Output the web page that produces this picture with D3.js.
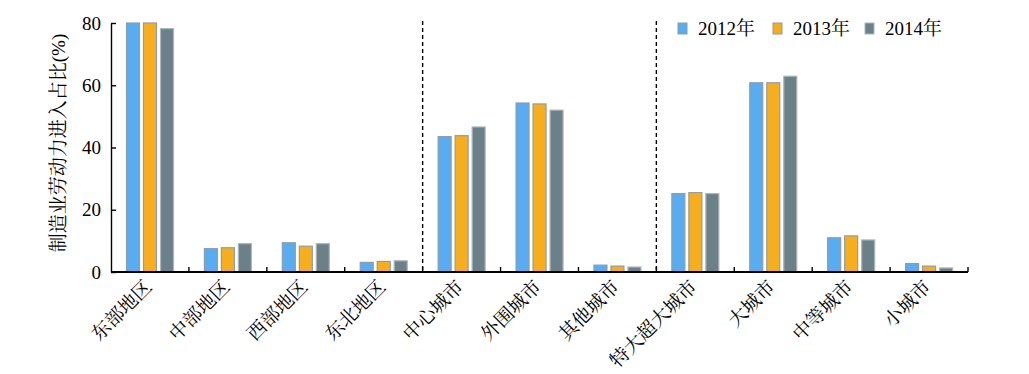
<!DOCTYPE html>
<html>
<head>
<meta charset="utf-8">
<script src="https://cdn.jsdelivr.net/npm/d3@7"></script>
<style>
  body { margin: 0; background: #fff; }
  svg text { font-family: "Liberation Serif", "Noto Serif CJK SC", "Noto Sans CJK SC", serif; fill: #000; }
</style>
</head>
<body>
<svg id="chart" width="1029" height="374"></svg>
<script>
const categories = ["东部地区", "中部地区", "西部地区", "东北地区", "中心城市", "外围城市", "其他城市", "特大超大城市", "大城市", "中等城市", "小城市"];
const years = ["2012年", "2013年", "2014年"];
const values2012 = [80.0, 7.5, 9.4, 3.1, 43.5, 54.3, 2.2, 25.2, 60.8, 11.0, 2.7];
const values2013 = [80.0, 7.8, 8.3, 3.4, 43.8, 54.0, 1.9, 25.5, 60.8, 11.6, 1.9];
const values2014 = [78.2, 9.1, 9.1, 3.6, 46.6, 52.0, 1.6, 25.2, 62.9, 10.3, 1.3];
const yTicks = [0, 20, 40, 60, 80];
const dividers = ["中心城市", "特大超大城市"]; // dashed lines before these groups

const series = [values2012, values2013, values2014];
const colors = ["#58adf2", "#f6ae1f", "#6c8089"];
const strokes = ["#8f9ea6", "#8f9ea6", "#a9b6bc"];

const svg = d3.select("#chart");
const plotLeft = 111, plotRight = 968, plotTop = 23, plotBottom = 272;

const x = d3.scaleBand().domain(categories).range([plotLeft, plotRight]).padding(0);
const inner = d3.scaleBand().domain(years).range([15, 63]).paddingInner(3 / 17);
const y = d3.scaleLinear().domain([0, 80]).range([plotBottom, plotTop]);

// bars
const groups = svg.append("g").selectAll("g")
    .data(categories)
    .join("g")
    .attr("transform", d => `translate(${x(d)},0)`);

groups.selectAll("rect")
    .data((d, i) => years.map((yr, k) => ({ yr, k, v: series[k][i] })))
    .join("rect")
    .attr("x", d => inner(d.yr) + 0.5)
    .attr("y", d => y(d.v))
    .attr("width", inner.bandwidth() - 1)
    .attr("height", d => plotBottom - y(d.v))
    .attr("fill", d => colors[d.k])
    .attr("stroke", d => strokes[d.k])
    .attr("stroke-width", 1.2);

// dashed dividers
svg.append("g").selectAll("line")
    .data(dividers)
    .join("line")
    .attr("x1", d => x(d)).attr("x2", d => x(d))
    .attr("y1", 21).attr("y2", plotBottom)
    .attr("stroke", "#000")
    .attr("stroke-width", 1.4)
    .attr("stroke-dasharray", "4,3");

// y axis
const yAxis = svg.append("g")
    .attr("transform", `translate(${plotLeft},0)`)
    .call(d3.axisLeft(y).tickValues(yTicks).tickSizeInner(-5).tickSizeOuter(0).tickPadding(10));
yAxis.selectAll("path, line").attr("stroke", "#000").attr("stroke-width", 1.4);
yAxis.selectAll("text").attr("font-size", 19).attr("font-family", "Liberation Serif, serif");

// x axis line and boundary ticks
svg.append("line")
    .attr("x1", plotLeft).attr("x2", plotRight)
    .attr("y1", plotBottom).attr("y2", plotBottom)
    .attr("stroke", "#000").attr("stroke-width", 1.8);

const boundaries = categories.slice(1).map(c => x(c)).concat([plotRight]);
svg.append("g").selectAll("line")
    .data(boundaries)
    .join("line")
    .attr("x1", d => d).attr("x2", d => d)
    .attr("y1", plotBottom).attr("y2", plotBottom - 5)
    .attr("stroke", "#000").attr("stroke-width", 1.4);

// x labels
svg.append("g").selectAll("text")
    .data(categories)
    .join("text")
    .attr("transform", d => `translate(${x(d) + x.bandwidth() / 2 + 3},288) rotate(-45)`)
    .attr("text-anchor", "end")
    .attr("font-size", 19)
    .text(d => d);

// y label
svg.append("text")
    .attr("transform", `translate(65,143) rotate(-90)`)
    .attr("text-anchor", "middle")
    .attr("font-size", 19)
    .text("制造业劳动力进入占比(%)");

// legend
const legendX = [678, 773, 865];
const legend = svg.append("g").selectAll("g")
    .data(years)
    .join("g")
    .attr("transform", (d, i) => `translate(${legendX[i]},23)`);
legend.append("rect")
    .attr("width", 9).attr("height", 11)
    .attr("fill", (d, i) => colors[i])
    .attr("stroke", (d, i) => strokes[i])
    .attr("stroke-width", 1);
legend.append("text")
    .attr("x", 20).attr("y", 12)
    .attr("font-size", 19)
    .text(d => d);
</script>
</body>
</html>
